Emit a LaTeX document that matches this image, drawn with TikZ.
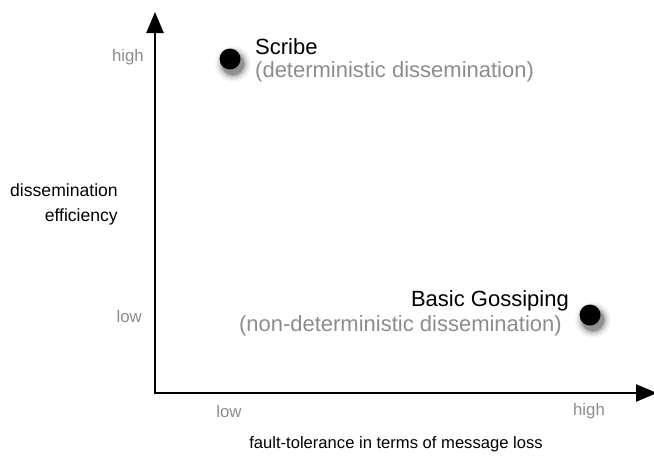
\documentclass[tikz,border=0pt]{standalone}
\usepackage{fontspec}
\setmainfont{Liberation Sans}
\usetikzlibrary{arrows.meta}
\definecolor{labgray}{RGB}{140,140,140}
\tikzset{
  axis/.style={line width=2.4pt, -{Triangle[length=21pt,width=17pt]}},
  bigtxt/.style={inner sep=0pt, font=\fontsize{22}{26}\selectfont},
  subtxt/.style={bigtxt, text=labgray},
  axlab/.style={inner sep=0pt, text=labgray, font=\fontsize{16.8}{20}\selectfont},
  axtitle/.style={inner sep=0pt, font=\fontsize{17.6}{25}\selectfont},
  xtitle/.style={inner sep=0pt, font=\fontsize{16.6}{20}\selectfont},
  dot/.style={circle, fill=black, minimum size=21pt, inner sep=0pt},
}
\newcommand{\softshadow}[2]{%
  \foreach \r/\o in {18/0.04,16/0.06,14.5/0.08,13/0.10,12/0.12,11/0.14}{%
    \fill[black, opacity=\o] (#1+3,#2+5) circle (\r pt);}%
}
\begin{document}
\begin{tikzpicture}[x=1pt,y=-1pt]
\useasboundingbox (0,0) rectangle (654,456);
\coordinate (O) at (155,393);
\coordinate (Ytip) at (155,12);
\coordinate (Xtip) at (657,393);
\draw[axis] (O) -- (Ytip);
\draw[axis] ([xshift=-1.2pt]O) -- (Xtip);
% dots
\softshadow{230}{59}
\node[dot] (scribe) at (230,59) {};
\softshadow{590}{315}
\node[dot] (gossip) at (590,315) {};
% labels
\node[bigtxt, anchor=west] (scribeT) at (255,47) {Scribe};
\node[subtxt, anchor=west] (scribeS) at (255,72) {(deterministic dissemination)};
\node[bigtxt, anchor=east] (gossT) at (569,301) {Basic Gossiping};
\node[subtxt, anchor=east] (gossS) at (562,326) {(non-deterministic dissemination)};
% axis labels
\node[axlab, anchor=east] (yhigh) at (144,57) {high};
\node[axlab, anchor=east] (ylow) at (142,316) {low};
\node[axlab] (xlow) at (229,411) {low};
\node[axlab] (xhigh) at (589,411) {high};
\node[axtitle, anchor=east, align=right] (ytitle) at (118,204) {dissemination\\efficiency};
\node[xtitle] (xtitle) at (396,444) {fault-tolerance in terms of message loss};
\end{tikzpicture}
\end{document}
